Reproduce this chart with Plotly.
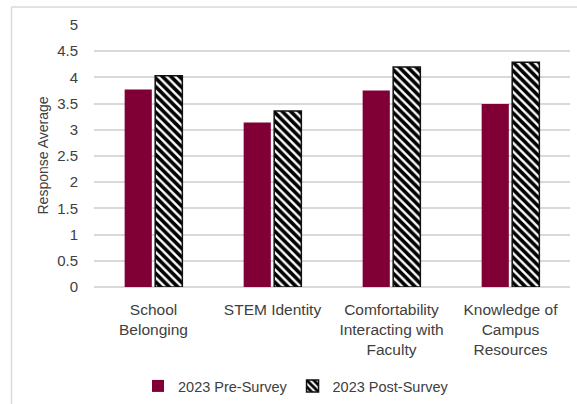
import plotly.graph_objects as go

categories = ["School<br>Belonging", "STEM Identity", "Comfortability<br>Interacting with<br>Faculty", "Knowledge of<br>Campus<br>Resources"]
pre_survey = [3.77, 3.14, 3.75, 3.49]
post_survey = [4.03, 3.36, 4.20, 4.29]
y_ticks = [0, 0.5, 1, 1.5, 2, 2.5, 3, 3.5, 4, 4.5, 5]
y_tick_text = ["0", "0.5", "1", "1.5", "2", "2.5", "3", "3.5", "4", "4.5", "5"]

TXT = "#404040"
FONT = "Liberation Sans"

fig = go.Figure()
fig.add_trace(go.Bar(
    x=categories, y=pre_survey, name="2023 Pre-Survey",
    marker=dict(color="#800035", line=dict(width=0)),
))
fig.add_trace(go.Bar(
    x=categories, y=post_survey, name="2023 Post-Survey",
    marker=dict(color="white", line=dict(color="#111111", width=1.5),
                pattern=dict(shape="\\", fgcolor="black", bgcolor="white", size=6, solidity=0.6,
                             fgopacity=1)),
))

L, R, T, B = 94, 7, 25, 117
W, H = 577, 404
pw = W - L - R
ph = H - T - B

def px_x(p):
    return (p - L) / pw

def px_y(p):
    return (H - B - p) / ph

fig.update_layout(
    width=W, height=H,
    margin=dict(l=L, r=R, t=T, b=B, autoexpand=False),
    paper_bgcolor="white", plot_bgcolor="white",
    font=dict(family=FONT, size=14, color=TXT),
    barmode="group", bargap=0.487, bargroupgap=0.11,
    showlegend=True,
    legend=dict(orientation="h", x=px_x(296), xanchor="center", y=px_y(386), yanchor="middle",
                font=dict(size=14.5, color=TXT), itemwidth=30, tracegroupgap=0,
                bgcolor="rgba(0,0,0,0)"),
    xaxis=dict(showgrid=False, showline=False, ticks="", tickfont=dict(size=15.5, color=TXT),
               ticklabelstandoff=11, fixedrange=True, automargin=False),
    yaxis=dict(range=[0, 5], tickvals=y_ticks, ticktext=y_tick_text, showgrid=True,
               gridcolor="#d9d9d9", gridwidth=1.5, zeroline=True, zerolinecolor="#d9d9d9",
               zerolinewidth=1.5, showline=False, ticks="", tickfont=dict(size=15, color=TXT),
               ticklabelstandoff=15, fixedrange=True, automargin=False),
    annotations=[dict(text="Response Average", xref="paper", yref="paper",
                      x=px_x(42), y=px_y(155.5), textangle=-90, showarrow=False,
                      font=dict(size=14, color=TXT), xanchor="center", yanchor="middle")],
    shapes=[
        dict(type="line", xref="paper", yref="paper", x0=px_x(11.5), x1=px_x(11.5),
             y0=px_y(7), y1=px_y(420), line=dict(color="#d9d9d9", width=1.5)),
        dict(type="line", xref="paper", yref="paper", x0=px_x(11.5), x1=px_x(590),
             y0=px_y(7), y1=px_y(7), line=dict(color="#d9d9d9", width=1.5)),
    ],
)

fig.write_html("out.html", config={"displayModeBar": False})
